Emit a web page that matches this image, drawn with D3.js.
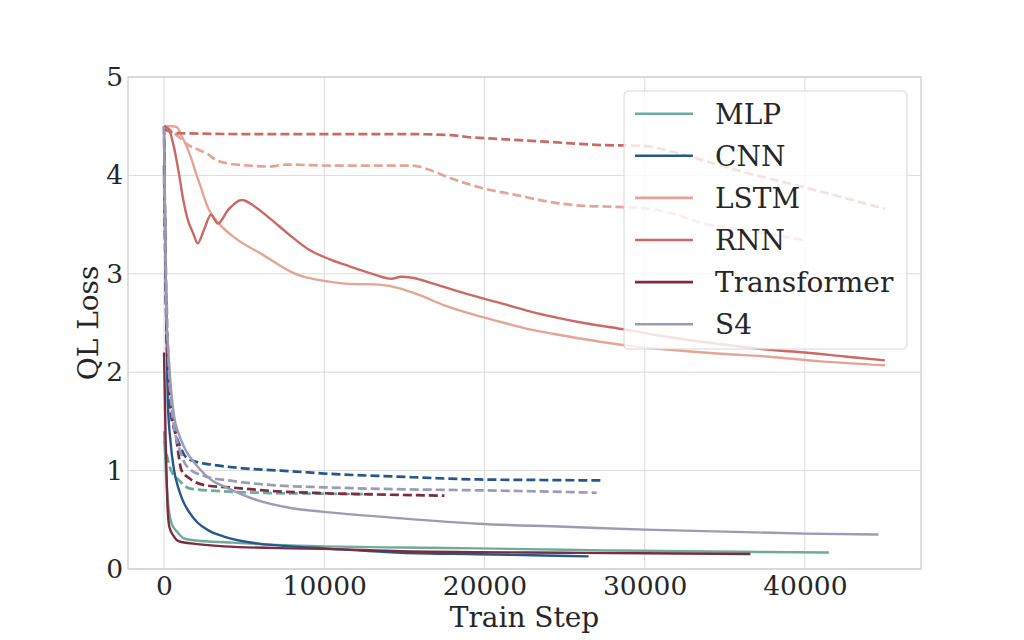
<!DOCTYPE html>
<html><head><meta charset="utf-8">
<script src="https://cdn.jsdelivr.net/npm/d3@7"></script>
<style>
html,body{margin:0;padding:0;background:#fff;}
svg{display:block;font-family:"DejaVu Serif",serif;}
</style></head>
<body><svg id="c" width="1024" height="640"></svg>
<script>
// ---- data (step, loss) ----
const models = ["MLP","CNN","LSTM","RNN","Transformer","S4"];
const colors = ["#6fab9d","#27568f","#e3a598","#c96a64","#7b2c3e","#9c9bb6"];
const xTicks = [0,10000,20000,30000,40000];
const yTicks = [0,1,2,3,4,5];

const mlpSolid = [[0,1.4],[150,0.9],[300,0.6],[500,0.45],[800,0.38],[1250,0.31],[2000,0.29],[4050,0.27],[7000,0.245],[10000,0.23],[14800,0.218],[19600,0.21],[25000,0.195],[30000,0.185],[36000,0.175],[41500,0.167]];
const mlpDash  = [[0,1.3],[440,1.0],[950,0.9],[1580,0.82],[3650,0.79],[6000,0.775],[10000,0.765],[13000,0.76]];
const cnnSolid = [[0,4.4],[100,3.0],[230,1.72],[400,1.3],[630,1.0],[900,0.82],[1160,0.7],[1600,0.57],[2100,0.47],[2800,0.39],[3740,0.33],[5800,0.26],[7900,0.23],[10000,0.21],[14800,0.165],[19600,0.15],[23000,0.14],[26500,0.128]];
const cnnDash  = [[0,4.1],[150,2.5],[310,1.72],[700,1.38],[1000,1.25],[1350,1.14],[2000,1.09],[3000,1.06],[4500,1.03],[6100,1.01],[8200,0.99],[10000,0.97],[14400,0.94],[19600,0.91],[23000,0.905],[27400,0.9]];
const lstmSolid = [[0,4.5],[500,4.5],[800,4.49],[1100,4.4],[1400,4.3],[1660,4.19],[2000,4.02],[2290,3.88],[2800,3.65],[3430,3.51],[4470,3.36],[6100,3.2],[8200,3.0],[10300,2.92],[11300,2.9],[13400,2.89],[14770,2.85],[16000,2.78],[17500,2.68],[19900,2.56],[21500,2.49],[23000,2.43],[25000,2.37],[27200,2.31],[29500,2.26],[31400,2.23],[34500,2.19],[37600,2.16],[41000,2.11],[45000,2.07]];
const lstmDash  = [[0,4.5],[400,4.46],[1000,4.38],[1400,4.32],[2000,4.27],[2700,4.22],[3200,4.16],[4050,4.12],[5300,4.1],[6550,4.09],[7600,4.11],[10300,4.1],[15500,4.1],[16500,4.06],[17900,3.97],[19900,3.87],[22000,3.8],[24100,3.73],[26200,3.69],[28300,3.68],[30300,3.66],[32000,3.6],[33500,3.52],[36500,3.44],[40000,3.34]];
const rnnSolid = [[0,4.5],[300,4.47],[600,4.3],[950,4.0],[1200,3.75],[1480,3.55],[1800,3.42],[2100,3.31],[2500,3.45],[2930,3.6],[3360,3.51],[4000,3.65],[4860,3.75],[5700,3.68],[6700,3.55],[7800,3.40],[9000,3.25],[10300,3.15],[11500,3.08],[13000,3.0],[14200,2.95],[14800,2.97],[15500,2.96],[16800,2.9],[18000,2.84],[19900,2.75],[21500,2.68],[23000,2.61],[24500,2.555],[26200,2.5],[28900,2.43],[31000,2.37],[33500,2.31],[35500,2.27],[37600,2.23],[40000,2.2],[42500,2.16],[45000,2.12]];
const rnnDash  = [[0,4.47],[800,4.43],[5000,4.42],[10000,4.42],[15000,4.42],[17900,4.41],[18900,4.39],[21000,4.37],[24100,4.34],[27000,4.31],[29900,4.30],[31500,4.25],[33500,4.16],[36500,4.02],[39700,3.89],[42500,3.77],[45000,3.66]];
const trSolid = [[0,2.2],[100,1.3],[200,0.7],[330,0.43],[620,0.33],[935,0.28],[1680,0.26],[3740,0.23],[7900,0.21],[10000,0.205],[14800,0.18],[19600,0.172],[25000,0.165],[30000,0.16],[36600,0.152]];
const trDash  = [[0,4.5],[150,2.5],[400,1.7],[700,1.4],[1100,1.0],[1600,0.92],[2600,0.85],[4050,0.83],[7000,0.79],[10000,0.77],[14000,0.755],[17500,0.745]];
const s4Solid = [[0,4.5],[60,3.6],[125,2.73],[330,2.06],[630,1.55],[900,1.38],[1250,1.24],[2100,1.04],[3000,0.9],[3740,0.84],[5800,0.70],[7900,0.62],[10000,0.58],[14400,0.52],[19600,0.46],[25000,0.43],[30000,0.40],[35000,0.38],[40000,0.36],[44600,0.35]];
const s4Dash  = [[0,4.0],[200,2.5],[500,1.6],[1000,1.2],[1500,1.03],[2600,0.94],[4050,0.9],[7000,0.85],[10000,0.83],[15000,0.81],[19600,0.8],[23000,0.79],[27000,0.775]];

const solidSeries = [mlpSolid,cnnSolid,lstmSolid,rnnSolid,trSolid,s4Solid];
const dashSeries  = [mlpDash,cnnDash,lstmDash,rnnDash,trDash,s4Dash];

// ---- chart ----
const svg = d3.select("#c");
const L=128,R=921,T=77,B=569;
const x = d3.scaleLinear().domain([-2250,47250]).range([L,R]);
const y = d3.scaleLinear().domain([0,5]).range([B,T]);
const txt = "#262626";

// grid
svg.append("g").selectAll("line").data(xTicks).join("line")
  .attr("x1",d=>x(d)).attr("x2",d=>x(d)).attr("y1",T).attr("y2",B)
  .attr("stroke","#dcdcdc").attr("stroke-width",1);
svg.append("g").selectAll("line").data(yTicks).join("line")
  .attr("y1",d=>y(d)).attr("y2",d=>y(d)).attr("x1",L).attr("x2",R)
  .attr("stroke","#dcdcdc").attr("stroke-width",1);

svg.append("defs").append("clipPath").attr("id","clip")
  .append("rect").attr("x",L).attr("y",T).attr("width",R-L).attr("height",B-T);

const line = d3.line().x(d=>x(d[0])).y(d=>y(d[1])).curve(d3.curveMonotoneX);
const g = svg.append("g").attr("clip-path","url(#clip)");
models.forEach((m,i)=>{
  g.append("path").datum(solidSeries[i]).attr("d",line)
    .attr("fill","none").attr("stroke",colors[i]).attr("stroke-width",2.4)
    .attr("stroke-linejoin","round");
  g.append("path").datum(dashSeries[i]).attr("d",line)
    .attr("fill","none").attr("stroke",colors[i]).attr("stroke-width",2.7)
    .attr("stroke-dasharray","9,4");
});

// frame
svg.append("rect").attr("x",L).attr("y",T).attr("width",R-L).attr("height",B-T)
  .attr("fill","none").attr("stroke","#cccccc").attr("stroke-width",1.25);

// axes
const xa = svg.append("g").attr("transform",`translate(0,${B})`)
  .call(d3.axisBottom(x).tickValues(xTicks).tickSize(0).tickPadding(7).tickFormat(d3.format("d")));
const ya = svg.append("g").attr("transform",`translate(${L},0)`)
  .call(d3.axisLeft(y).tickValues(yTicks).tickSize(0).tickPadding(5).tickFormat(d3.format("d")));
[xa,ya].forEach(a=>{
  a.select(".domain").remove();
  a.selectAll("text").attr("font-family","DejaVu Serif").attr("font-size",26.5).attr("fill",txt);
});

svg.append("text").attr("x",(L+R)/2).attr("y",627).attr("text-anchor","middle")
  .attr("font-size",28).attr("fill",txt).text("Train Step");
svg.append("text").attr("transform",`translate(98,${(T+B)/2}) rotate(-90)`)
  .attr("text-anchor","middle").attr("font-size",28).attr("fill",txt).text("QL Loss");

// legend
const lg = svg.append("g");
lg.append("rect").attr("x",624).attr("y",91).attr("width",283).attr("height",258).attr("rx",4)
  .attr("fill","#fff").attr("fill-opacity",0.8).attr("stroke","#d6d6d6").attr("stroke-width",1);
models.forEach((m,i)=>{
  const yy = 113.7 + 42.1*i;
  lg.append("line").attr("x1",635).attr("x2",693).attr("y1",yy).attr("y2",yy)
    .attr("stroke",colors[i]).attr("stroke-width",2.6);
  lg.append("text").attr("x",715).attr("y",yy).attr("dy","0.35em")
    .attr("font-size",28).attr("fill",txt).text(m);
});
</script></body></html>
